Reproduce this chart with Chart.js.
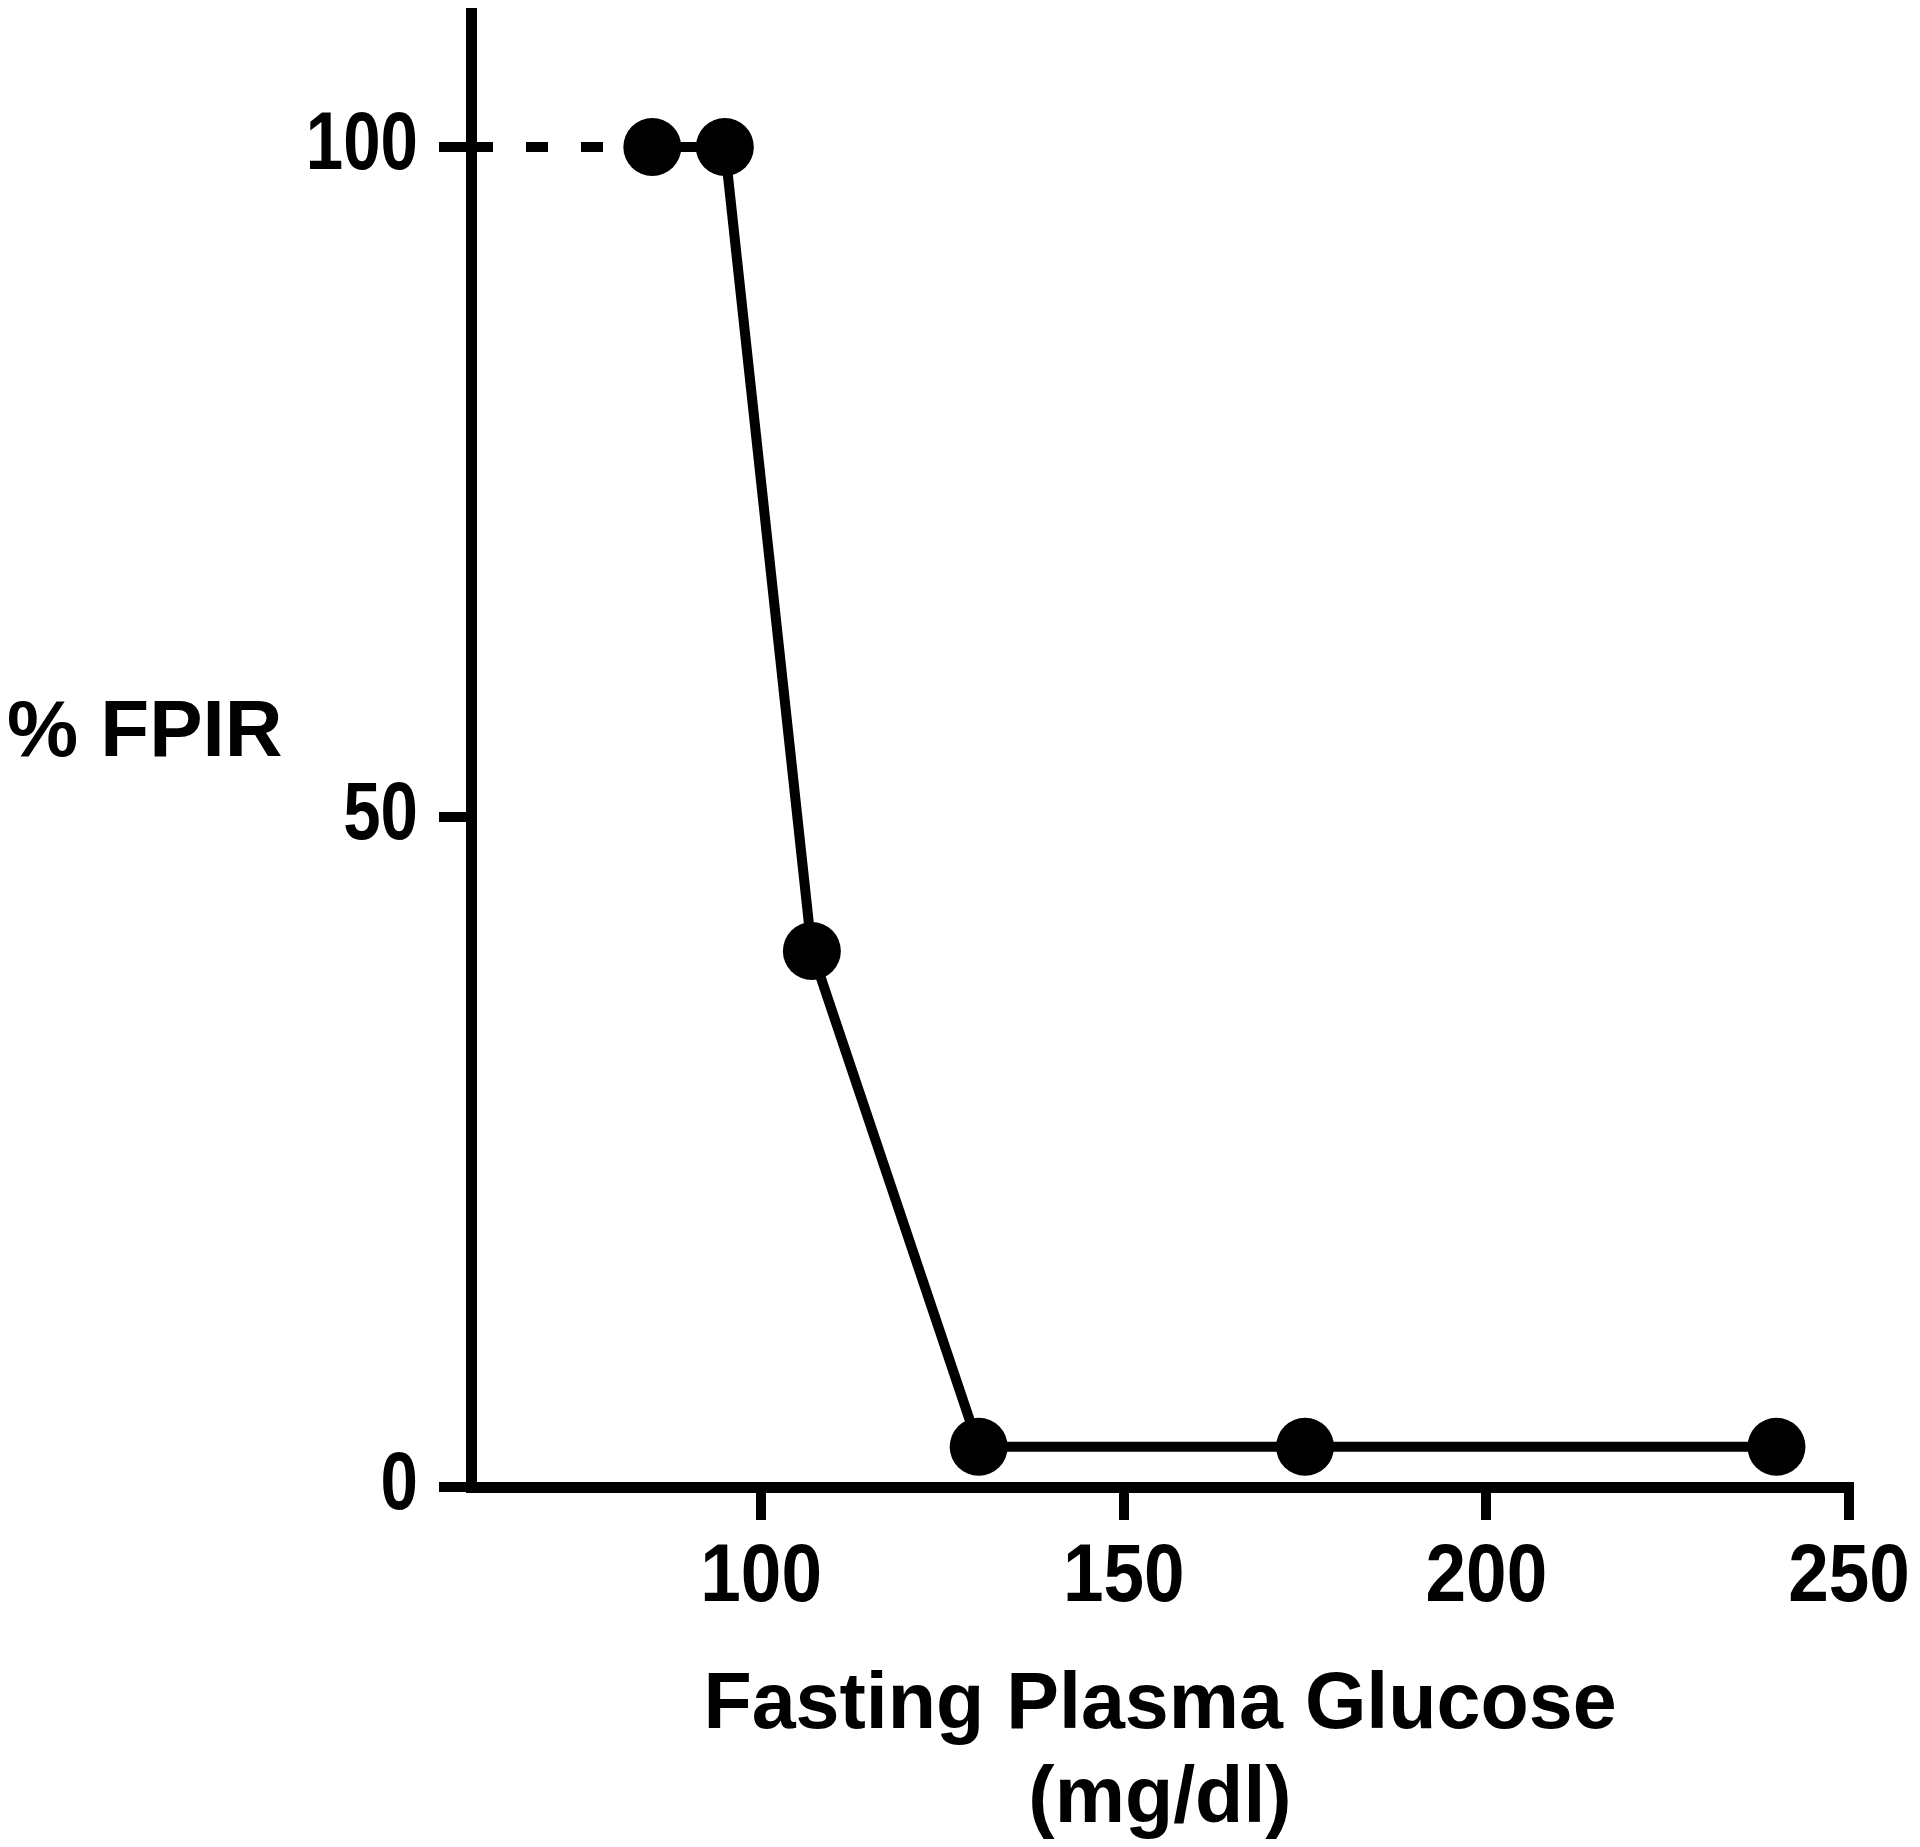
<!DOCTYPE html>
<html>
<head>
<meta charset="utf-8">
<script src="https://cdn.jsdelivr.net/npm/chart.js@4"></script>
<style>
  body { margin: 0; background: #fff; }
  #wrap { width: 1920px; height: 1847px; position: relative; }
</style>
</head>
<body>
<div id="wrap"><canvas id="chart"></canvas></div>
<script>
// glucose (mg/dl) vs % FPIR
const glucose = [85, 95, 107, 130, 175, 240];
const fpir = [100, 100, 40, 3, 3, 3];
// dashed lead-in from the axis to the first point
const leadX = [60, 85];
const leadY = [100, 100];
const xTicks = [100, 150, 200, 250];
const yTicks = [0, 50, 100];

const titleFont = { family: '"Liberation Sans", Arial, sans-serif', size: 79, weight: 'bold', lineHeight: 1.19 };
// no narrow font installed, squeeze the tick labels by hand
const xNarrow = 0.9;
const yNarrow = 0.83;

// tick labels in a condensed face + the horizontal y title
const extraText = {
    id: 'extraText',
    afterDraw(chart) {
        const ctx = chart.ctx;
        const area = chart.chartArea;
        const xs = chart.scales.x, ys = chart.scales.y;
        ctx.save();
        ctx.fillStyle = '#000';
        ctx.font = 'bold 81px "Liberation Sans", Arial, sans-serif';
        ctx.textBaseline = 'middle';

        ctx.save();
        ctx.scale(xNarrow, 1);
        ctx.textAlign = 'center';
        xs.ticks.forEach(t => {
            ctx.fillText(t.label, xs.getPixelForValue(t.value) / xNarrow, area.bottom + 92);
        });
        ctx.restore();

        ctx.save();
        ctx.scale(yNarrow, 1);
        ctx.textAlign = 'right';
        ys.ticks.forEach(t => {
            ctx.fillText(t.label, (area.left - 53) / yNarrow, ys.getPixelForValue(t.value));
        });
        ctx.restore();

        ctx.font = 'bold 80px "Liberation Sans", Arial, sans-serif';
        ctx.textAlign = 'left';
        ctx.fillText('% FPIR', 7, area.top + (area.bottom - area.top) * 0.489);
        ctx.restore();
    }
};

const canvas = document.getElementById('chart');
new Chart(canvas, {
    type: 'line',
    data: {
        datasets: [
            {
                data: glucose.map((x, i) => ({ x: x, y: fpir[i] })),
                borderColor: '#000',
                borderWidth: 10,
                pointRadius: 29,
                pointBackgroundColor: '#000',
                pointBorderWidth: 0,
                tension: 0
            },
            {
                data: leadX.map((x, i) => ({ x: x, y: leadY[i] })),
                borderColor: '#000',
                borderWidth: 10,
                borderDash: [22, 33],
                pointRadius: 0,
                tension: 0
            }
        ]
    },
    options: {
        responsive: true,
        maintainAspectRatio: false,
        animation: false,
        layout: { autoPadding: false, padding: { top: 13, right: 71, bottom: 0, left: 0 } },
        plugins: {
            legend: { display: false },
            tooltip: { enabled: false }
        },
        scales: {
            x: {
                type: 'linear',
                min: 60,
                max: 250,
                afterBuildTicks: (scale) => { scale.ticks = xTicks.map(v => ({ value: v })); },
                afterFit: (scale) => { scale.height = 360; scale.paddingLeft = 0; scale.paddingRight = 0; },
                border: { color: '#000', width: 11 },
                grid: { drawOnChartArea: false, color: '#000', lineWidth: 10, tickLength: 33 },
                ticks: { display: false },
                title: {
                    display: true,
                    text: ['Fasting Plasma Glucose', '(mg/dl)'],
                    color: '#000',
                    font: titleFont,
                    padding: { top: 0, bottom: 0 }
                }
            },
            y: {
                type: 'linear',
                min: 0,
                max: 110,
                afterBuildTicks: (scale) => { scale.ticks = yTicks.map(v => ({ value: v })); },
                afterFit: (scale) => { scale.width = 471; scale.paddingTop = 0; scale.paddingBottom = 0; },
                border: { color: '#000', width: 11 },
                grid: { drawOnChartArea: false, color: '#000', lineWidth: 10, tickLength: 32 },
                ticks: { display: false }
            }
        }
    },
    plugins: [extraText]
});
</script>
</body>
</html>
